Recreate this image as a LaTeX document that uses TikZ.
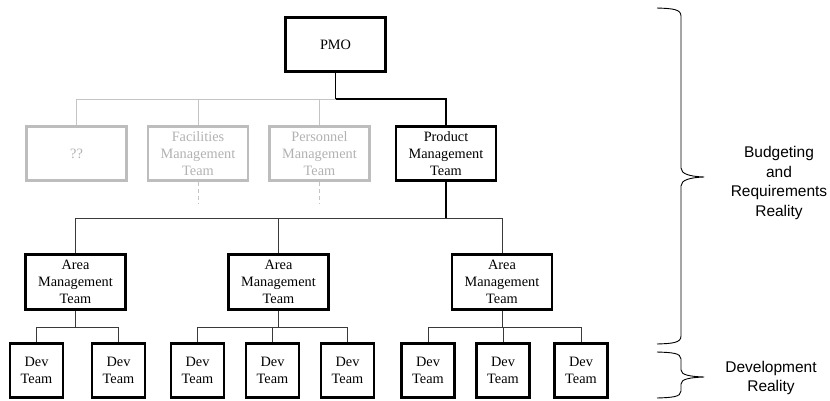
\documentclass[tikz,border=0pt]{standalone}
\usepackage{fontspec}
\setmainfont{Liberation Serif}
\newfontfamily\labelfont{Liberation Sans}
\definecolor{boxgray}{HTML}{BDBDBD}
\definecolor{textgray}{HTML}{B2B2B2}
\definecolor{linegray}{HTML}{C4C4C4}
\definecolor{linedark}{HTML}{3A3A3A}
\begin{document}
\begin{tikzpicture}[x=1pt,y=-1pt,
  orgbox/.style={draw=black, line width=2.6pt, fill=white, align=center,
    minimum width=100pt, minimum height=54pt, inner sep=0pt,
    font=\fontsize{14.3}{17}\selectfont},
  ghostbox/.style={orgbox, draw=boxgray, text=textgray},
  devbox/.style={orgbox, minimum width=53pt},
  link/.style={draw=linedark, line width=1pt},
  trunk/.style={draw=black, line width=1.6pt},
  ghostlink/.style={draw=linegray, line width=1pt},
  ghostdash/.style={draw=linegray, line width=1pt, dashed, dash pattern=on 4pt off 3pt},
  brace/.style={draw=black, line width=0.9pt, line join=round},
  side/.style={font=\labelfont\fontsize{15.5}{19.5}\selectfont, align=center}]
\useasboundingbox (0,0) rectangle (830,400);

% top of the hierarchy
\node[orgbox] (pmo) at (335.5,44.5) {PMO};

% second row
\node[ghostbox] (unknown) at (76.5,153.5) {??};
\node[ghostbox] (facil) at (198,153.5) {Facilities\\Management\\Team};
\node[ghostbox] (person) at (319.5,153.5) {Personnel\\Management\\Team};
\node[orgbox] (product) at (446,153.5) {Product\\Management\\Team};

% area management row
\node[orgbox, minimum height=55pt] (areaA) at (75.5,282) {Area\\Management\\Team};
\node[orgbox, minimum height=55pt] (areaB) at (278.5,282) {Area\\Management\\Team};
\node[orgbox, minimum height=55pt] (areaC) at (502,282) {Area\\Management\\Team};

% development teams
\node[devbox] (devA1) at (36.5,370.5) {Dev\\Team};
\node[devbox] (devA2) at (118.5,370.5) {Dev\\Team};
\node[devbox] (devB1) at (197.5,370.5) {Dev\\Team};
\node[devbox] (devB2) at (272.5,370.5) {Dev\\Team};
\node[devbox] (devB3) at (347.5,370.5) {Dev\\Team};
\node[devbox] (devC1) at (428,370.5) {Dev\\Team};
\node[devbox] (devC2) at (503,370.5) {Dev\\Team};
\node[devbox] (devC3) at (581,370.5) {Dev\\Team};

% bus levels
\coordinate (busTop) at (335.5,99);
\coordinate (busArea) at (446,218);
\coordinate (busA) at (75.5,327);
\coordinate (busB) at (278.5,327);
\coordinate (busC) at (502,327);
\coordinate (facilEnd) at (198,203);
\coordinate (personEnd) at (319.5,203);

% PMO to the second row
\draw[ghostlink] (busTop) -| (unknown.north);
\draw[ghostlink] (busTop) -| (facil.north);
\draw[ghostlink] (busTop) -| (person.north);
\draw[ghostdash] (facil.south) -- (facilEnd);
\draw[ghostdash] (person.south) -- (personEnd);
\draw[trunk] (pmo.south) -- (busTop);
\draw[trunk] (busTop) -| (product.north);

% product management to area teams
\draw[trunk] (product.south) -- (busArea);
\draw[link] (busArea) -| (areaA.north);
\draw[link] (busArea) -| (areaB.north);
\draw[link] (busArea) -| (areaC.north);

% area teams to dev teams
\draw[link] (areaA.south) -- (busA);
\draw[link] (busA) -| (devA1.north);
\draw[link] (busA) -| (devA2.north);
\draw[link] (areaB.south) -- (busB);
\draw[link] (busB) -| (devB1.north);
\draw[link] (busB) -| (devB2.north);
\draw[link] (busB) -| (devB3.north);
\draw[link] (areaC.south) -- (busC);
\draw[link] (busC) -| (devC1.north);
\draw[link] (busC) -| (devC2.north);
\draw[link] (busC) -| (devC3.north);

% braces and their captions
\draw[brace] (657,8) .. controls (672,8.5) and (681,9) .. (681,16)
  -- (681,168) .. controls (681,174) and (690,176.5) .. (704,177)
  .. controls (690,177.5) and (681,180) .. (681,186)
  -- (681,336) .. controls (681,343) and (672,343.5) .. (657,344);
\draw[brace] (657,352) .. controls (672,352.5) and (681,353) .. (681,359)
  -- (681,370) .. controls (681,375) and (690,376.5) .. (704,377)
  .. controls (690,377.5) and (681,379) .. (681,384)
  -- (681,391) .. controls (681,397) and (672,397.5) .. (657,398);

\node[side] (budget) at (779,183) {Budgeting\\and\\Requirements\\Reality};
\node[side] (devel) at (771,378) {Development\\Reality};
\end{tikzpicture}
\end{document}
